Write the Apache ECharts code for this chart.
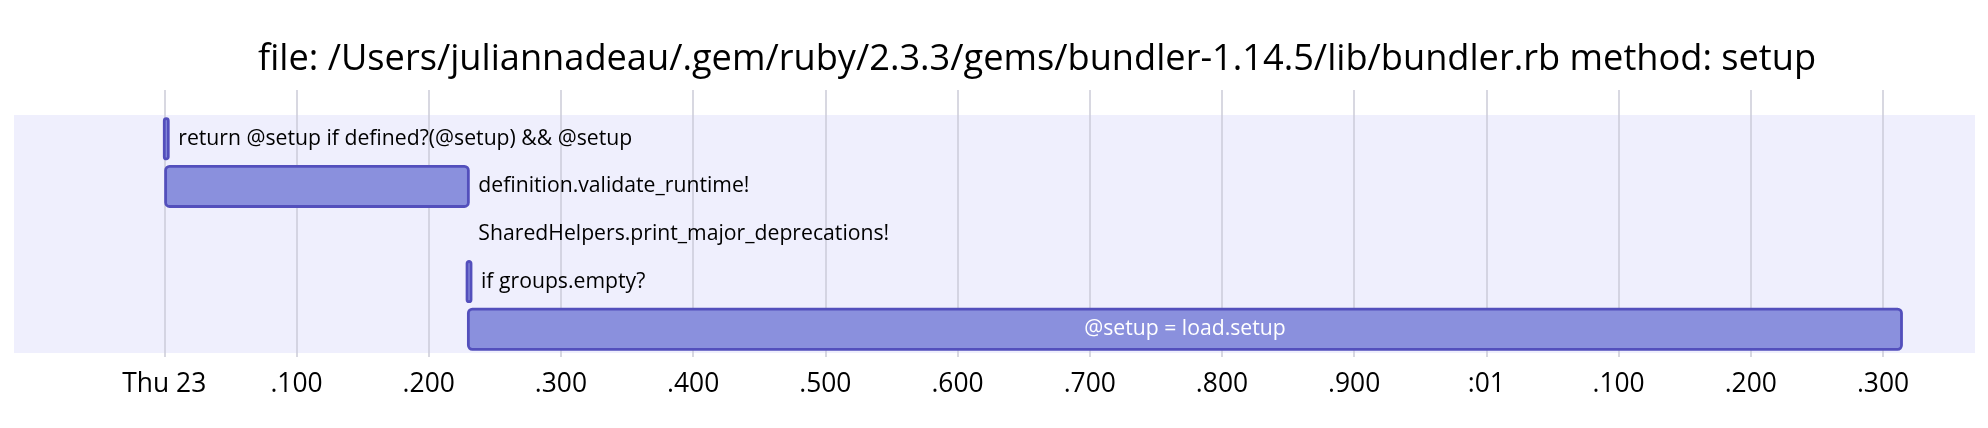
<!DOCTYPE html>
<html><head><meta charset="utf-8">
<script src="https://cdn.jsdelivr.net/npm/echarts@6/dist/echarts.min.js"></script>
<style>html,body{margin:0;padding:0;background:#fff}#c{width:1988px;height:428px}</style>
</head><body><div id="c"></div>
<script>
const titleText = 'file: /Users/juliannadeau/.gem/ruby/2.3.3/gems/bundler-1.14.5/lib/bundler.rb method: setup';
const taskNames = [
  'return @setup if defined?(@setup) && @setup',
  'definition.validate_runtime!',
  'SharedHelpers.print_major_deprecations!',
  'if groups.empty?',
  '@setup = load.setup'
];
// seconds after Thu 23 00:00:00.000
const taskStart = [0.000, 0.001, 0.230, 0.229, 0.230];
const taskEnd   = [0.003, 0.230, 0.230, 0.232, 1.314];
const tickValues = [0, 0.1, 0.2, 0.3, 0.4, 0.5, 0.6, 0.7, 0.8, 0.9, 1.0, 1.1, 1.2, 1.3];
const tickLabels = ['Thu 23', '.100', '.200', '.300', '.400', '.500', '.600', '.700', '.800', '.900', ':01', '.100', '.200', '.300'];

const FONT = '"Open Sans", "Noto Sans", sans-serif';
const GRID_COLOR = '#cbcbd8';

const mctx = document.createElement('canvas').getContext('2d');
function measure(txt, fs) { mctx.font = fs + 'px ' + FONT; return mctx.measureText(txt).width; }
// choose font sizes so the text widths match the reference picture
function fitSize(txt, targetWidth) { return Math.round(20 * targetWidth / measure(txt, 20) * 10) / 10; }
const TITLE_FS = fitSize(titleText, 1559);
const TASK_FS = fitSize(taskNames[2], 412);
const TICK_FS = fitSize(tickLabels[0], 84);

const chart = echarts.init(document.getElementById('c'), null, {renderer: 'canvas'});
const xMin = -0.11368, xMax = 1.36959;

const option = {
  animation: false,
  backgroundColor: '#ffffff',
  title: {
    text: titleText,
    left: Math.round(1032 - measure(titleText, TITLE_FS) / 2),
    top: 59 - TITLE_FS * 0.62,
    textStyle: {fontFamily: FONT, fontSize: TITLE_FS, fontWeight: 'normal', color: '#000'}
  },
  grid: {left: 14, right: 13, top: 115, bottom: 75, show: true, backgroundColor: '#efeffd', borderWidth: 0},
  xAxis: [{
    type: 'value', min: xMin, max: xMax, position: 'bottom',
    axisLine: {show: false},
    axisTick: {show: true, length: 4, customValues: tickValues, lineStyle: {color: GRID_COLOR, width: 1.5}},
    axisLabel: {show: true, customValues: tickValues, margin: 18, color: '#000', fontFamily: FONT, fontSize: TICK_FS,
      formatter: v => { const i = tickValues.findIndex(t => Math.abs(t - v) < 1e-6); return i >= 0 ? tickLabels[i] : ''; }},
    splitLine: {show: true, lineStyle: {color: GRID_COLOR, width: 1.5}}
  }, {
    type: 'value', min: xMin, max: xMax, position: 'top',
    axisLine: {show: false},
    axisTick: {show: true, length: 25, customValues: tickValues, lineStyle: {color: GRID_COLOR, width: 1.5}},
    axisLabel: {show: false},
    splitLine: {show: false}
  }],
  yAxis: {
    type: 'category', data: taskNames, inverse: true,
    axisLine: {show: false}, axisTick: {show: false}, axisLabel: {show: false}, splitLine: {show: false}
  },
  series: [{
    type: 'custom',
    xAxisIndex: 0,
    data: taskNames.map((n, i) => [i, taskStart[i], taskEnd[i]]),
    encode: {x: [1, 2], y: 0},
    renderItem: function (params, api) {
      const cat = api.value(0);
      const s = api.coord([api.value(1), cat]);
      const e = api.coord([api.value(2), cat]);
      const h = api.size([0, 1])[1] * 0.845;
      const w = e[0] - s[0];
      const name = taskNames[params.dataIndex];
      const tw = measure(name, TASK_FS);
      const inside = tw < w * 0.6;
      const children = [];
      if (w > 0.5) {
        children.push({
          type: 'rect',
          shape: {x: s[0], y: s[1] - h / 2, width: w, height: h, r: 4},
          style: {fill: '#8a90dd', stroke: '#534fbc', lineWidth: 2.8}
        });
      }
      children.push({
        type: 'text',
        style: {
          text: name,
          x: inside ? (s[0] + e[0]) / 2 : e[0] + 10,
          y: s[1],
          fill: inside ? '#ffffff' : '#000000',
          fontFamily: FONT, fontSize: TASK_FS,
          align: inside ? 'center' : 'left',
          verticalAlign: 'middle'
        }
      });
      return {type: 'group', children: children};
    }
  }]
};
chart.setOption(option);
</script>
</body></html>
